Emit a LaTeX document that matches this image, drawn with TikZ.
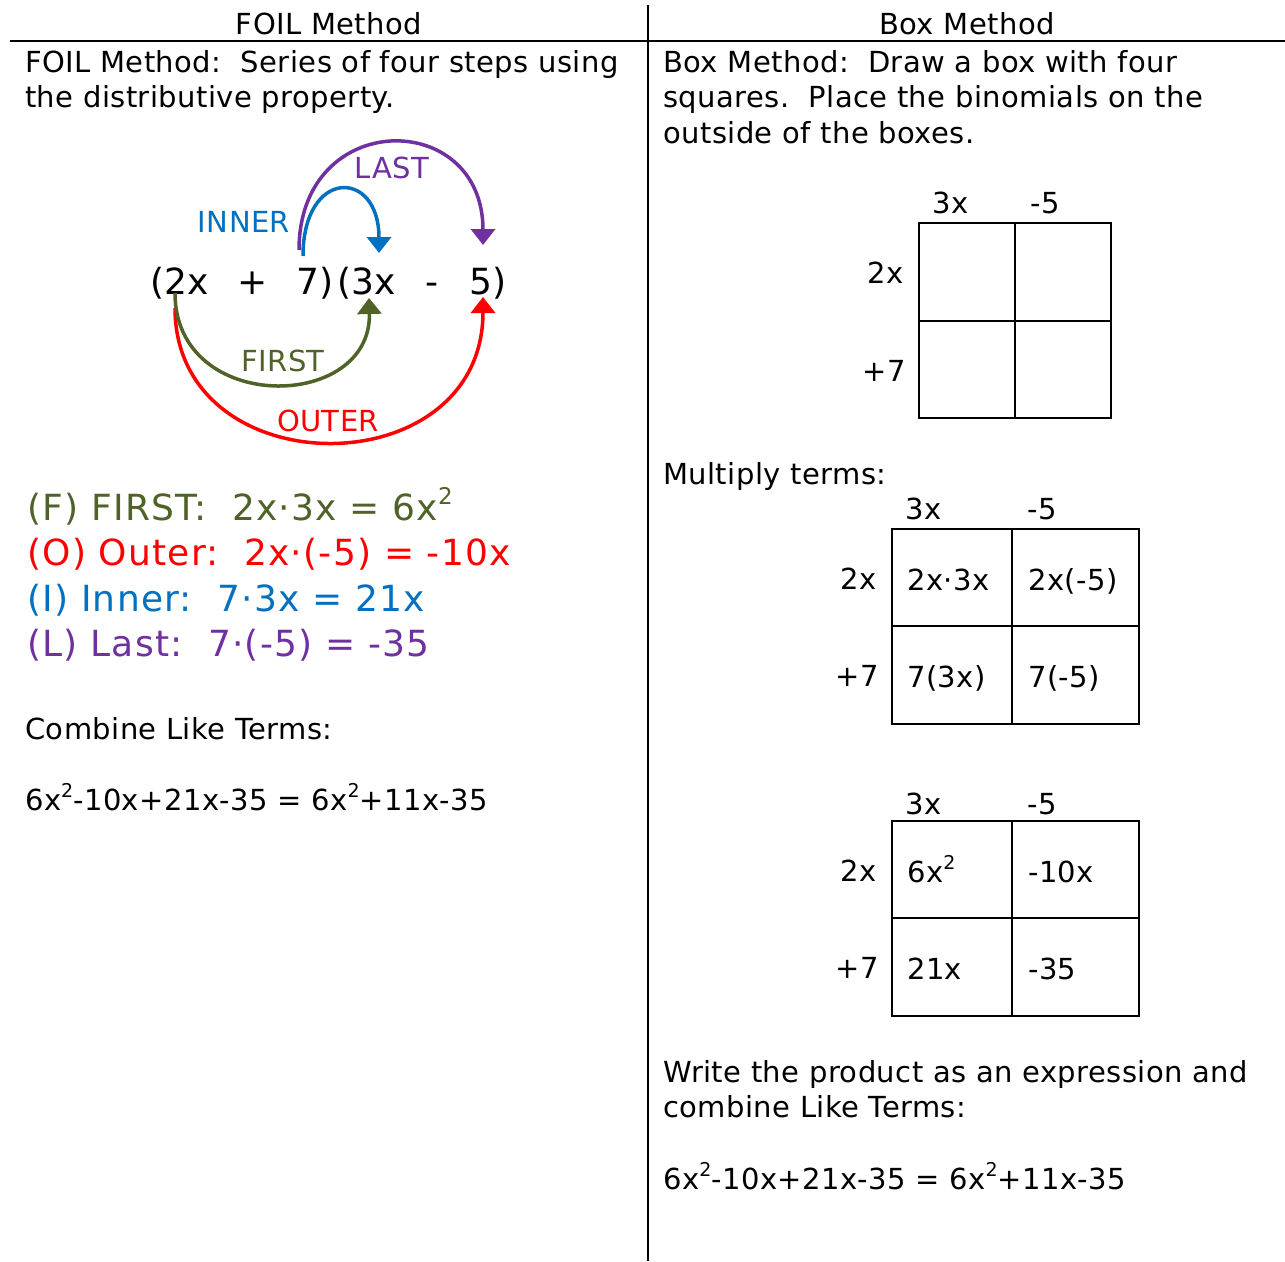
\documentclass[tikz,border=0pt]{standalone}
\usepackage{fontspec}
\setmainfont{DejaVu Sans}[LetterSpace=1.5]
\newfontfamily\bigfont{DejaVu Sans}[LetterSpace=3.5]
\newfontfamily\exprfont{DejaVu Sans}
\usetikzlibrary{arrows.meta}
\definecolor{foilgreen}{HTML}{4F6228}
\definecolor{foilred}{HTML}{FF0000}
\definecolor{foilblue}{HTML}{0070C0}
\definecolor{foilpurple}{HTML}{7030A0}
\newcommand{\sqr}{\raisebox{0.42em}{\fontsize{19}{19}\selectfont 2}}
\newcommand{\sqrb}{\raisebox{0.42em}{\fontsize{23}{23}\selectfont 2}}
\begin{document}
\begin{tikzpicture}[x=1pt,y=-1pt,
  body/.style={font=\fontsize{29}{35}\selectfont, anchor=base west, inner sep=0pt},
  bodyc/.style={font=\fontsize{29}{35}\selectfont, anchor=base, inner sep=0pt},
  big/.style={font=\bigfont\fontsize{36}{44}\selectfont, anchor=base west, inner sep=0pt},
  expr/.style={font=\exprfont\fontsize{36}{44}\selectfont, anchor=base west, inner sep=0pt},
  exprc/.style={font=\exprfont\fontsize{36}{44}\selectfont, anchor=base, inner sep=0pt},
  lab/.style={font=\fontsize{29}{35}\selectfont, inner sep=0pt},
  arr/.style={line width=3.5pt, -{Triangle[width=24pt,length=16pt]}},
  rulel/.style={line width=1.6pt},
  cellbox/.style={draw, line width=1.8pt, inner sep=0pt}]
\useasboundingbox (0,0) rectangle (1285,1261);

% frame lines
\coordinate (hl) at (10,41);
\coordinate (hr) at (1285,41);
\coordinate (vt) at (648,5);
\coordinate (vb) at (648,1261);
\draw[rulel] (hl) -- (hr);
\draw[rulel] (vt) -- (vb);

% headers
\node[bodyc] (h1) at (329,34) {FOIL Method};
\node[bodyc] (h2) at (967,34) {Box Method};

% left text
\node[body] (l1) at (25,72) {FOIL Method:\ \ Series of four steps using};
\node[body] (l2) at (25,107) {the distributive property.};

% expression
\node[expr] (e1) at (150,294) {(2x};
\node[exprc] (e2) at (253,294) {+};
\node[expr] (e3) at (296,294) {7)};
\node[expr] (e4) at (337,294) {(3x};
\node[exprc] (e5) at (432,294) {-};
\node[expr] (e6) at (469,294) {5)};

\coordinate (fs) at (175,293);
\coordinate (fe) at (369,298);
\coordinate (os) at (175,308);
\coordinate (oe) at (483,297);
\coordinate (is) at (303,256);
\coordinate (ie) at (379,253);
\coordinate (ls) at (299,250);
\coordinate (le) at (483,245);

\draw[arr, foilpurple] (ls) .. controls (299,108) and (483,108) .. (le);
\draw[arr, foilblue] (is) .. controls (303,168) and (379,168) .. (ie);
\draw[arr, foilred] (os) .. controls (175,488) and (483,488) .. (oe);
\draw[arr, foilgreen] (fs) .. controls (175,415) and (372,412) .. (fe);

\node[lab, text=foilgreen] (lf) at (283,361) {FIRST};
\node[lab, text=foilred] (lo) at (328,421) {OUTER};
\node[lab, text=foilblue] (li) at (244,222) {INNER};
\node[lab, text=foilpurple] (ll) at (392,168) {LAST};

% colored lines
\node[big, text=foilgreen] (cf) at (27,520) {(F) FIRST:\ \ 2x·3x = 6x\sqrb};
\node[big, text=foilred] (co) at (27,565) {(O) Outer:\ \ 2x·(-5) = -10x};
\node[big, text=foilblue] (ci) at (27,611) {(I) Inner:\ \ 7·3x = 21x};
\node[big, text=foilpurple] (cl) at (27,656) {(L) Last:\ \ 7·(-5) = -35};

\node[body] (comb) at (25,739) {Combine Like Terms:};
\node[body] (eq1) at (25,810) {6x\sqr-10x+21x-35 = 6x\sqr+11x-35};

% right text
\node[body] (r1) at (663,72) {Box Method:\ \ Draw a box with four};
\node[body] (r2) at (663,107) {squares.\ \ Place the binomials on the};
\node[body] (r3) at (663,143) {outside of the boxes.};

% box 1
\node[cellbox, minimum width=96pt, minimum height=98pt] (b1a) at (967,272) {};
\node[cellbox, minimum width=96pt, minimum height=98pt] (b1b) at (1063,272) {};
\node[cellbox, minimum width=96pt, minimum height=97pt] (b1c) at (967,369.5) {};
\node[cellbox, minimum width=96pt, minimum height=97pt] (b1d) at (1063,369.5) {};
\node[lab] (b1t1) at (951,203) {3x};
\node[lab] (b1t2) at (1045,203) {-5};
\node[lab] (b1s1) at (886,273) {2x};
\node[lab] (b1s2) at (884,371) {+7};

\node[body] (mult) at (663,484) {Multiply terms:};

% box 2
\node[cellbox, minimum width=120pt, minimum height=97pt] (b2a) at (952,577.5) {};
\node[cellbox, minimum width=127pt, minimum height=97pt] (b2b) at (1075.5,577.5) {};
\node[cellbox, minimum width=120pt, minimum height=98pt] (b2c) at (952,675) {};
\node[cellbox, minimum width=127pt, minimum height=98pt] (b2d) at (1075.5,675) {};
\node[lab] (b2t1) at (924,509) {3x};
\node[lab] (b2t2) at (1042,509) {-5};
\node[lab] (b2s1) at (859,579) {2x};
\node[lab] (b2s2) at (857,676) {+7};
\node[body] (b2xa) at (907,590) {2x·3x};
\node[body] (b2xb) at (1028,590) {2x(-5)};
\node[body] (b2xc) at (907,687) {7(3x)};
\node[body] (b2xd) at (1028,687) {7(-5)};

% box 3
\node[cellbox, minimum width=120pt, minimum height=97pt] (b3a) at (952,869.5) {};
\node[cellbox, minimum width=127pt, minimum height=97pt] (b3b) at (1075.5,869.5) {};
\node[cellbox, minimum width=120pt, minimum height=98pt] (b3c) at (952,967) {};
\node[cellbox, minimum width=127pt, minimum height=98pt] (b3d) at (1075.5,967) {};
\node[lab] (b3t1) at (924,804) {3x};
\node[lab] (b3t2) at (1042,804) {-5};
\node[lab] (b3s1) at (859,871) {2x};
\node[lab] (b3s2) at (857,968) {+7};
\node[body] (b3xa) at (907,882) {6x\sqr};
\node[body] (b3xb) at (1028,882) {-10x};
\node[body] (b3xc) at (907,979) {21x};
\node[body] (b3xd) at (1028,979) {-35};

\node[body] (w1) at (663,1082) {Write the product as an expression and};
\node[body] (w2) at (663,1117) {combine Like Terms:};
\node[body] (eq2) at (663,1189) {6x\sqr-10x+21x-35 = 6x\sqr+11x-35};
\end{tikzpicture}
\end{document}
